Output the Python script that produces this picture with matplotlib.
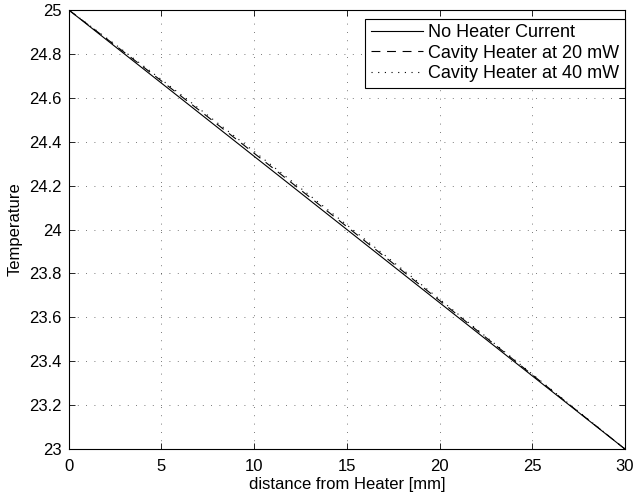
import numpy as np
from matplotlib import pyplot as plt

plt.rcParams['font.family'] = ['Liberation Sans', 'DejaVu Sans']

# distance along the sample [mm] and temperatures for each heater setting
distance_mm = [0, 2.5, 5, 7.5, 10, 12.5, 15, 17.5, 20, 22.5, 25, 27.5, 30]
temp_no_heater = [25.0, 24.8333, 24.6667, 24.5, 24.3333, 24.1667, 24.0,
                  23.8333, 23.6667, 23.5, 23.3333, 23.1667, 23.0]
temp_20mw = [25.0, 24.8393, 24.6767, 24.513, 24.3473, 24.1807, 24.013,
             23.8453, 23.6767, 23.508, 23.3383, 23.1687, 23.0]
temp_40mw = [25.0, 24.8433, 24.6827, 24.52, 24.3553, 24.1887, 24.021,
             23.8523, 23.6827, 23.512, 23.3413, 23.1707, 23.0]

labels = ['No Heater Current', 'Cavity Heater at 20 mW', 'Cavity Heater at 40 mW']

fig = plt.figure(figsize=(6.37, 5.0), dpi=100)
ax = fig.add_axes([0.108, 0.102, 0.873, 0.878])

ax.plot(distance_mm, temp_no_heater, color='black', lw=0.8, ls='-', label=labels[0])
ax.plot(distance_mm, temp_20mw, color='black', lw=0.8, ls=(0, (8, 6)), label=labels[1])
ax.plot(distance_mm, temp_40mw, color='black', lw=0.8, ls=(0, (1, 5)), label=labels[2])

ax.set_xlim(0, 30)
ax.set_ylim(23, 25)
ax.set_xticks(np.arange(0, 31, 5))
ax.set_yticks(np.arange(23, 25.01, 0.2))
ax.set_yticklabels(['23', '23.2', '23.4', '23.6', '23.8', '24', '24.2', '24.4',
                    '24.6', '24.8', '25'])
ax.tick_params(direction='in', top=True, right=True, labelsize=12, length=4,
               width=0.6)
ax.tick_params(axis='x', pad=7)
ax.tick_params(axis='y', pad=5)
ax.grid(True, color='black', ls=(0, (1, 9)), lw=0.6, alpha=0.7)
for sp in ax.spines.values():
    sp.set_linewidth(0.8)

ax.set_xlabel('distance from Heater [mm]', fontsize=12, labelpad=2)
ax.set_ylabel('Temperature', fontsize=12, labelpad=5)

leg = ax.legend(loc='upper right', bbox_to_anchor=(1.0, 0.98), fontsize=13,
                fancybox=False, framealpha=1, edgecolor='black',
                handlelength=2.9, handletextpad=0.3, labelspacing=0.2,
                borderpad=0.3, borderaxespad=0.0)
leg.get_frame().set_linewidth(0.8)

fig.savefig('out.png', dpi=100)
